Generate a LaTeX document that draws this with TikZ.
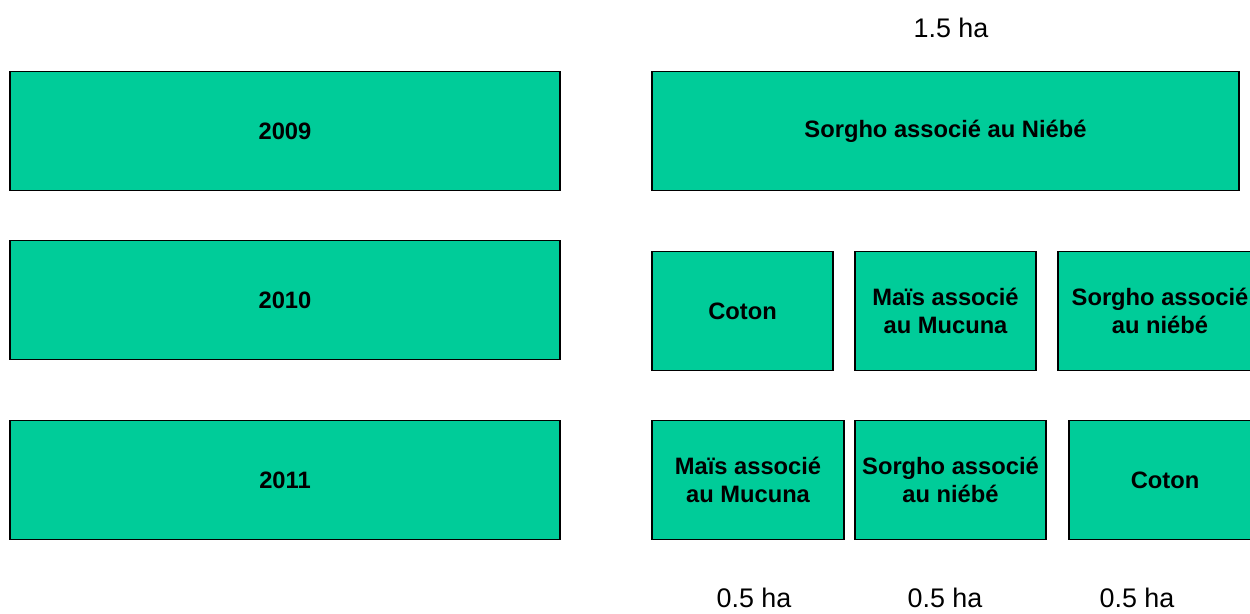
\documentclass[tikz,border=0pt]{standalone}
\usepackage{fontspec}
\setmainfont{Liberation Sans}
\definecolor{plotgreen}{RGB}{0,204,153}

\begin{document}
\begin{tikzpicture}[x=0.02cm, y=-0.02cm,
  parcel/.style={rectangle, draw=black, line width=0.8pt, fill=plotgreen, minimum height=119*0.02cm, inner sep=0pt, align=center, font=\fontsize{13.5}{15.9}\selectfont\bfseries},
  area/.style={anchor=base, inner sep=0pt, font=\fontsize{15.3}{18}\selectfont}]
\useasboundingbox (0,0) rectangle (1250,614);
\clip (0,0) rectangle (1250,614);
% years
\node[parcel, minimum width=550*0.02cm] (Y9) at (285,131) {2009};
\node[parcel, minimum width=550*0.02cm] (Y10) at (285,300) {2010};
\node[parcel, minimum width=550*0.02cm] (Y11) at (285,480) {2011};
% 2009
\node[parcel, minimum width=587*0.02cm] (P9) at (945.5,131) {Sorgho associé au Niébé};
% 2010
\node[parcel, minimum width=181*0.02cm] (P10a) at (742.5,311) {Coton};
\node[parcel, minimum width=181*0.02cm] (P10b) at (945.5,311) {Maïs associé\\au Mucuna};
\node[parcel, minimum width=204*0.02cm] (P10c) at (1160,311) {Sorgho associé\\au niébé};
% 2011
\node[parcel, minimum width=192*0.02cm] (P11a) at (748,480) {Maïs associé\\au Mucuna};
\node[parcel, minimum width=191*0.02cm] (P11b) at (950.5,480) {Sorgho associé\\au niébé};
\node[parcel, minimum width=192*0.02cm] (P11c) at (1165,480) {Coton};
% surfaces
\node[area] (S9) at (951,38) {1.5 ha};
\node[area] (S1) at (754,607) {0.5 ha};
\node[area] (S2) at (945,607) {0.5 ha};
\node[area] (S3) at (1137,607) {0.5 ha};
\end{tikzpicture}
\end{document}
